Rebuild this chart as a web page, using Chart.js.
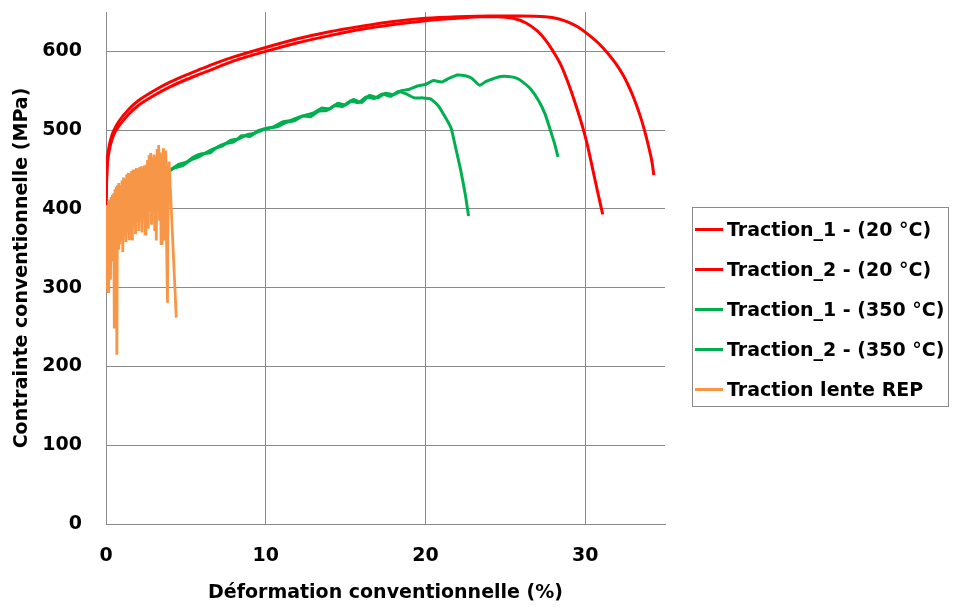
<!DOCTYPE html>
<html>
<head>
<meta charset="utf-8">
<script src="https://cdn.jsdelivr.net/npm/chart.js@4/dist/chart.umd.min.js"></script>
<style>
    body { margin: 0; background: #fff; }
    #wrap { position: relative; width: 953px; height: 609px; }
    #legend {
        position: absolute; left: 692px; top: 207px; width: 257px; height: 200px;
        border: 1px solid #8a8a8a; box-sizing: border-box;
        font: bold 19px "DejaVu Sans", sans-serif; color: #000;
    }
    .item { position: absolute; left: 2px; height: 40px; display: flex; align-items: center; white-space: nowrap; }
    .swatch { width: 28px; height: 3px; margin-right: 4px; }
</style>
</head>
<body>
<div id="wrap">
    <canvas id="tensileChart" width="953" height="609"></canvas>
    <div id="legend"></div>
</div>
<script>
// axes
const xTicks = [0, 10, 20, 30];
const yTicks = [0, 100, 200, 300, 400, 500, 600];

// Traction_1 - (20 °C)
const t1_20_x = [0, 0.03, 0.08, 0.15, 0.3, 0.5, 0.8, 1.4, 2, 3, 4, 5, 6, 7, 8, 10, 12, 14, 16, 18, 20, 22, 23.5, 24.5, 25.5, 26.3, 27, 27.5, 28, 28.5, 28.9, 29.4, 29.9, 30.2, 30.5, 30.8, 31.1];
const t1_20_y = [400, 430, 455, 468, 483, 495, 505, 520, 531, 544, 555, 564, 572, 580, 588, 600, 611, 620, 628, 634, 639, 642, 644, 644, 642, 636, 626, 615, 600, 582, 562, 533, 500, 476, 448, 420, 393];

// Traction_2 - (20 °C)
const t2_20_x = [0, 0.03, 0.08, 0.15, 0.3, 0.5, 0.8, 1.4, 2, 3, 4, 5, 6, 7, 8, 10, 12, 14, 16, 18, 20, 22, 24, 26, 27.5, 28.3, 28.9, 29.5, 29.9, 30.4, 30.9, 31.4, 31.9, 32.4, 32.7, 33.0, 33.4, 33.7, 34.0, 34.2, 34.3];
const t2_20_y = [400, 435, 462, 474, 489, 500, 511, 526, 537, 550, 561, 570, 578, 586, 593, 605, 616, 625, 632, 638, 642, 644, 645, 645, 644, 641.5, 637.5, 631.5, 626, 618, 609, 598, 585, 569, 557, 543, 521, 501, 477, 458, 443];

// Traction_1 - (350 °C)
const t1_350_x = [3.8, 4.3, 4.8, 5.3, 5.8, 6.3, 6.8, 7.3, 7.8, 8.3, 8.8, 9.3, 9.8, 10.3, 10.8, 11.3, 11.8, 12.3, 12.8, 13.3, 13.8, 14.3, 14.8, 15.3, 15.8, 16.3, 16.8, 17.3, 17.8, 18.3, 18.8, 19.3, 19.8, 20.3, 20.8, 21.2, 21.6, 21.9, 22.2, 22.5, 22.7];
const t1_350_y = [446, 452, 455, 462, 466, 472, 477, 480, 487, 489, 494, 496, 500, 503, 505, 510, 512, 518, 517, 524, 525, 531, 530, 537, 535, 542, 540, 546, 543, 549, 546, 541, 541, 540, 531, 518, 503, 477, 450, 418, 391];

// Traction_2 - (350 °C)
const t2_350_x = [3.8, 4.5, 5.0, 5.5, 6.0, 6.5, 7.0, 7.5, 8.0, 8.5, 9.0, 9.5, 10.0, 10.5, 11.0, 11.5, 12.0, 12.5, 13.0, 13.5, 14.0, 14.5, 15.0, 15.5, 16.0, 16.5, 17.0, 17.5, 18.0, 18.5, 19.0, 19.5, 20.0, 20.5, 21.0, 21.5, 22.0, 22.5, 22.9, 23.4, 23.8, 24.2, 24.7, 25.2, 25.7, 26.1, 26.6, 27.1, 27.5, 27.9, 28.1, 28.3];
const t2_350_y = [446, 456, 459, 466, 470, 471, 479, 483, 485, 493, 492, 499, 502, 504, 510, 512, 516, 519, 522, 528, 527, 534, 532, 539, 535, 544, 541, 547, 545, 550, 552, 556, 558, 563, 561, 566, 570, 569, 566, 557, 562, 565, 568, 568, 566, 561, 552, 537, 520, 495, 482, 466];

// Traction lente REP
const rep_x = [0, 0.03, 0.06, 0.1, 0.13, 0.17, 0.2, 0.24, 0.28, 0.32, 0.36, 0.4, 0.44, 0.48, 0.52, 0.56, 0.6, 0.64, 0.68, 0.72, 0.76, 0.8, 0.85, 0.9, 0.95, 1.0, 1.05, 1.1, 1.15, 1.2, 1.25, 1.3, 1.35, 1.4, 1.45, 1.5, 1.55, 1.6, 1.65, 1.7, 1.75, 1.8, 1.85, 1.9, 1.95, 2.0, 2.05, 2.1, 2.15, 2.2, 2.25, 2.3, 2.35, 2.4, 2.45, 2.5, 2.55, 2.6, 2.65, 2.7, 2.75, 2.8, 2.85, 2.9, 2.95, 3.0, 3.05, 3.1, 3.15, 3.2, 3.25, 3.3, 3.35, 3.4, 3.45, 3.5, 3.55, 3.6, 3.65, 3.7, 3.75, 3.85, 3.9, 3.95, 4.4];
const rep_y = [300, 405, 320, 402, 295, 410, 330, 412, 310, 415, 340, 418, 335, 420, 250, 425, 345, 428, 215, 430, 350, 433, 355, 430, 360, 436, 345, 440, 365, 438, 358, 444, 370, 446, 362, 445, 375, 448, 360, 450, 380, 449, 368, 452, 385, 451, 372, 453, 388, 454, 370, 452, 390, 455, 368, 456, 392, 462, 375, 468, 395, 471, 380, 466, 398, 469, 372, 467, 360, 476, 400, 481, 385, 472, 356, 470, 405, 477, 360, 474, 420, 281, 450, 460, 262];

const labels = ['Traction_1 - (20 °C)', 'Traction_2 - (20 °C)', 'Traction_1 - (350 °C)', 'Traction_2 - (350 °C)', 'Traction lente REP'];
const colors = ['#ff0000', '#ff0000', '#00b050', '#00b050', '#f79646'];

function toPoints(xs, ys) {
    return xs.map((x, i) => ({ x: x, y: ys[i] }));
}

const series = [
    { xs: t1_20_x, ys: t1_20_y, tension: 0.4, width: 3 },
    { xs: t2_20_x, ys: t2_20_y, tension: 0.4, width: 3 },
    { xs: t1_350_x, ys: t1_350_y, tension: 0.15, width: 3 },
    { xs: t2_350_x, ys: t2_350_y, tension: 0.15, width: 3 },
    { xs: rep_x, ys: rep_y, tension: 0, width: 2.8 }
];

const datasets = series.map((s, i) => ({
    label: labels[i],
    data: toPoints(s.xs, s.ys),
    borderColor: colors[i],
    backgroundColor: colors[i],
    borderWidth: s.width,
    showLine: true,
    pointRadius: 0,
    fill: false,
    tension: s.tension,
    cubicInterpolationMode: i < 2 ? 'monotone' : 'default',
    order: 5 - i
}));

const fontSpec = { family: '"DejaVu Sans", sans-serif', size: 19, weight: 'bold' };
const gridColor = '#8a8a8a';

new Chart(document.getElementById('tensileChart'), {
    type: 'scatter',
    data: { datasets: datasets },
    options: {
        responsive: false,
        animation: false,
        devicePixelRatio: 1,
        layout: { padding: { top: 12, right: 288, left: 0, bottom: 0 } },
        plugins: { legend: { display: false }, tooltip: { enabled: false } },
        scales: {
            x: {
                type: 'linear', min: 0, max: 35,
                afterFit: function(scale) { scale.height = 85; scale.paddingLeft = 0; scale.paddingRight = 0; },
                ticks: { stepSize: 10, includeBounds: false, padding: 21, color: '#000', font: fontSpec },
                grid: { color: gridColor, lineWidth: 1, drawTicks: false },
                border: { color: gridColor, width: 1 },
                title: { display: true, text: 'Déformation conventionnelle (%)', color: '#000', font: fontSpec, padding: { top: 0, bottom: 5 } }
            },
            y: {
                type: 'linear', min: 0, max: 650,
                afterFit: function(scale) { scale.width = 106; scale.paddingTop = 0; scale.paddingBottom = 0; },
                ticks: { stepSize: 100, includeBounds: false, padding: 24, color: '#000', font: fontSpec },
                grid: { color: gridColor, lineWidth: 1, drawTicks: false },
                border: { color: gridColor, width: 1 },
                title: { display: true, text: 'Contrainte conventionnelle (MPa)', color: '#000', font: fontSpec, padding: { top: 11, bottom: 0 } }
            }
        }
    }
});

// légende
const legendBox = document.getElementById('legend');
labels.forEach((lab, i) => {
    const row = document.createElement('div');
    row.className = 'item';
    row.style.top = (1 + i * 40) + 'px';
    row.innerHTML = `<span class="swatch" style="background:${colors[i]}"></span><span>${lab}</span>`;
    legendBox.appendChild(row);
});
</script>
</body>
</html>
